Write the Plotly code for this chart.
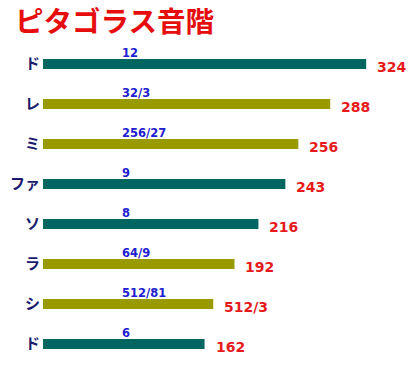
import plotly.graph_objects as go

notes = ["ド", "レ", "ミ", "ファ", "ソ", "ラ", "シ", "ド"]
values = [324, 288, 256, 243, 216, 192, 512 / 3, 162]
value_labels = ["324", "288", "256", "243", "216", "192", "512/3", "162"]
ratios = ["12", "32/3", "256/27", "9", "8", "64/9", "512/81", "6"]
bar_colors = ["#00665f", "#999900", "#999900", "#00665f", "#00665f", "#999900", "#999900", "#00665f"]

pos = list(range(len(notes)))

fig = go.Figure()
fig.add_trace(go.Bar(
    x=values, y=pos, orientation="h", width=0.25,
    marker=dict(color=bar_colors, line=dict(width=0)),
    hoverinfo="skip",
))

annotations = []
for i, (v, vl, r) in enumerate(zip(values, value_labels, ratios)):
    annotations.append(dict(
        x=v, y=i, xref="x", yref="y", text="<b>%s</b>" % vl, showarrow=False,
        xanchor="left", yanchor="middle", xshift=9, yshift=-3,
        font=dict(family="DejaVu Sans", size=14, color="#e61a1a"),
    ))
    annotations.append(dict(
        x=0.204, y=i, xref="paper", yref="y", text="<b>%s</b>" % r, showarrow=False,
        xanchor="left", yanchor="middle", xshift=0, yshift=11,
        font=dict(family="DejaVu Sans", size=11.5, color="#2020d0"),
    ))

fig.update_layout(
    width=420, height=374,
    margin=dict(l=43, r=0, t=44, b=10),
    paper_bgcolor="white", plot_bgcolor="white",
    showlegend=False,
    title=dict(
        text="<b>ピタゴラス音階</b>", x=15 / 420, xanchor="left", xref="container",
        y=1 - 22 / 374, yanchor="middle", yref="container",
        font=dict(family="Noto Sans CJK JP", size=28.5, color="#e60d0d"),
    ),
    xaxis=dict(range=[0, 378], visible=False, showgrid=False, zeroline=False, automargin=False),
    yaxis=dict(
        range=[7.5, -0.5], tickvals=pos, ticktext=["<b>%s</b>" % n for n in notes],
        showgrid=False, zeroline=False, showline=False, ticks="",
        tickfont=dict(family="Noto Sans CJK JP", size=15, color="#1a1a6e"),
        ticklabelstandoff=2, automargin=False,
    ),
    annotations=annotations,
)

fig.write_html(
    "out.html",
    config={"displayModeBar": False},
    post_script="document.body.style.margin='0';document.body.style.overflow='hidden';",
)
